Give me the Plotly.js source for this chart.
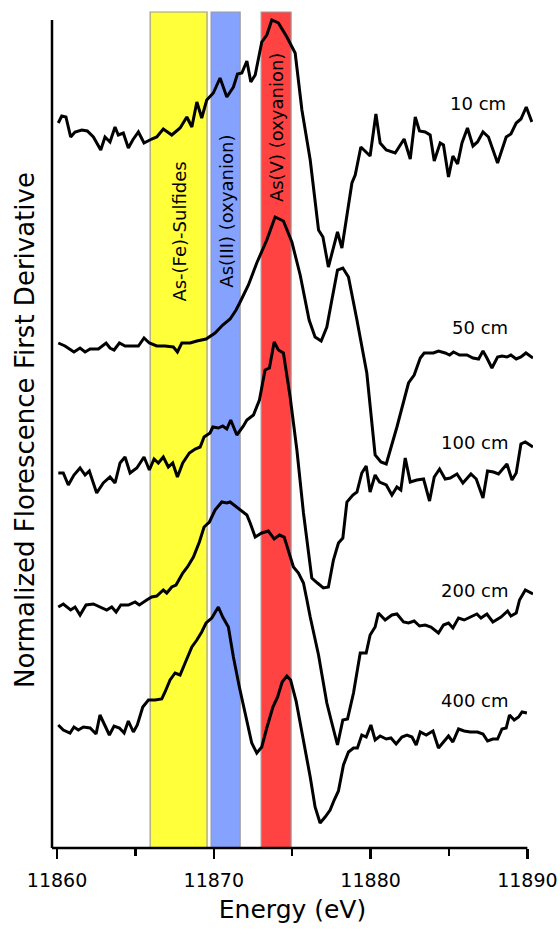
<!DOCTYPE html>
<html><head><meta charset="utf-8">
<script src="https://cdn.plot.ly/plotly-3.0.1.min.js"></script>
<style>html,body{margin:0;padding:0;background:#fff}#chart{width:560px;height:930px}</style>
</head><body><div id="chart"></div>
<script>
// ---- data (energies in eV, stacked first-derivative values, arbitrary units) ----
const e10 = [11860.08,11860.30,11860.57,11860.87,11861.15,11861.58,11861.93,11862.32,11862.79,11863.06,11863.38,11863.70,11863.91,11864.23,11864.55,11864.83,11865.19,11865.55,11866.04,11866.36,11866.78,11867.32,11867.85,11868.28,11868.60,11868.92,11869.23,11869.55,11869.97,11870.40,11870.83,11871.25,11871.51,11871.79,11872.11,11872.36,11872.64,11873.06,11873.38,11873.70,11874.12,11874.66,11875.19,11875.62,11876.15,11876.68,11876.96,11877.31,11877.89,11878.17,11878.81,11879.02,11879.38,11879.97,11880.34,11880.61,11881.00,11881.57,11882.14,11882.53,11882.85,11883.12,11883.48,11883.80,11884.06,11884.44,11884.65,11884.97,11885.25,11885.55,11885.83,11886.18,11886.53,11886.82,11887.17,11887.52,11888.10,11888.65,11888.95,11889.29,11889.59,11889.93,11890.29];
const v10 = [7.25,7.32,7.31,7.11,7.16,7.18,7.17,7.11,6.98,7.11,7.06,7.21,7.13,7.15,7.00,7.08,7.16,7.05,7.09,7.11,7.19,7.13,7.20,7.31,7.21,7.46,7.30,7.48,7.55,7.70,7.51,7.61,7.74,7.75,7.87,7.66,7.73,8.06,8.13,8.28,8.25,8.11,7.95,7.38,6.88,6.18,6.11,5.81,6.16,6.00,6.65,6.73,7.01,6.92,7.34,7.05,6.98,6.95,7.09,6.89,7.31,7.17,7.16,7.13,6.87,7.05,7.03,6.71,6.92,6.84,7.05,7.20,7.02,7.06,7.16,7.11,6.85,7.11,7.14,7.25,7.29,7.41,7.26];

const e50 = [11860.08,11860.51,11861.08,11861.47,11861.79,11862.11,11862.64,11863.13,11863.38,11863.64,11863.98,11864.34,11864.77,11865.19,11865.55,11865.89,11866.36,11866.89,11867.42,11867.68,11867.96,11868.49,11868.92,11869.51,11870.08,11870.57,11871.04,11871.42,11871.68,11872.21,11872.74,11873.38,11873.91,11874.44,11874.98,11875.51,11876.08,11876.46,11876.85,11877.21,11877.53,11877.89,11878.23,11878.59,11879.13,11879.76,11880.29,11880.66,11881.00,11881.68,11882.42,11882.78,11883.17,11883.42,11884.01,11884.33,11884.76,11885.04,11885.29,11885.67,11886.15,11886.53,11886.89,11887.17,11887.42,11887.74,11888.10,11888.38,11888.70,11888.95,11889.29,11889.59,11889.91,11890.36];
const v50 = [5.05,5.02,4.96,5.00,4.96,4.99,4.99,5.05,5.00,4.98,5.05,5.02,5.02,5.02,5.10,5.05,5.02,5.02,5.01,4.96,5.05,5.05,5.07,5.09,5.15,5.23,5.29,5.38,5.46,5.63,5.85,6.08,6.31,6.27,6.06,5.73,5.28,5.11,5.07,5.21,5.48,5.78,5.80,5.71,5.28,4.75,3.93,3.86,3.84,4.21,4.65,4.73,4.90,4.95,4.95,4.97,4.95,4.93,4.96,4.93,4.93,4.90,4.89,4.97,4.90,4.80,4.91,4.92,4.91,4.93,4.89,4.91,4.95,4.90];

const e100 = [11860.08,11860.40,11860.72,11861.08,11861.47,11861.79,11862.06,11862.53,11862.95,11863.38,11863.70,11864.02,11864.34,11864.66,11865.09,11865.55,11865.89,11866.19,11866.46,11866.78,11867.10,11867.38,11867.68,11868.02,11868.44,11868.81,11869.13,11869.38,11869.76,11869.94,11870.29,11870.57,11870.83,11871.08,11871.47,11871.89,11872.11,11872.53,11872.91,11873.27,11873.55,11873.85,11874.12,11874.44,11874.87,11875.30,11875.72,11876.25,11876.61,11876.99,11877.31,11877.63,11877.95,11878.23,11878.49,11878.87,11879.13,11879.44,11879.72,11879.97,11880.29,11880.57,11881.00,11881.36,11881.68,11881.93,11882.21,11882.53,11882.95,11883.38,11883.76,11884.06,11884.40,11884.76,11885.08,11885.51,11885.89,11886.40,11886.74,11887.17,11887.46,11887.84,11888.16,11888.70,11889.02,11889.29,11889.59,11889.87,11890.36];
const v100 = [3.75,3.75,3.63,3.73,3.80,3.73,3.77,3.55,3.65,3.71,3.65,3.85,3.91,3.75,3.80,3.91,3.78,3.89,3.85,3.91,3.81,3.85,3.71,3.85,3.95,3.99,4.01,4.11,4.15,4.21,4.20,4.22,4.19,4.28,4.13,4.22,4.28,4.33,4.48,4.78,4.80,5.06,4.98,4.95,4.51,3.98,3.35,2.70,2.65,2.60,2.61,2.88,3.05,3.10,3.46,3.53,3.56,3.75,3.82,3.56,3.73,3.66,3.63,3.53,3.61,3.58,3.90,3.66,3.68,3.69,3.47,3.71,3.79,3.69,3.70,3.74,3.65,3.74,3.69,3.50,3.77,3.76,3.74,3.84,3.68,3.75,4.04,4.06,4.01];

const e200 = [11860.08,11860.40,11860.87,11861.15,11861.47,11861.85,11862.32,11862.74,11863.17,11863.49,11863.77,11864.07,11864.55,11864.98,11865.25,11865.72,11866.04,11866.36,11866.78,11867.00,11867.32,11867.59,11868.02,11868.32,11868.70,11869.08,11869.38,11869.72,11870.08,11870.51,11870.83,11871.04,11871.47,11872.11,11872.32,11872.64,11873.06,11873.48,11873.85,11874.19,11874.49,11874.76,11875.08,11875.40,11875.72,11875.94,11876.15,11876.68,11877.21,11877.53,11877.89,11878.23,11878.53,11878.91,11879.34,11879.72,11879.97,11880.29,11880.50,11880.93,11881.36,11881.68,11882.10,11882.42,11882.78,11883.12,11883.48,11883.85,11884.33,11884.65,11884.97,11885.25,11885.61,11885.97,11886.36,11886.78,11887.04,11887.42,11887.80,11888.32,11888.74,11888.95,11889.29,11889.50,11889.87,11890.36];
const v200 = [2.41,2.44,2.38,2.41,2.33,2.43,2.44,2.41,2.38,2.41,2.36,2.43,2.43,2.46,2.43,2.48,2.51,2.52,2.58,2.55,2.61,2.63,2.75,2.81,2.91,3.06,3.21,3.26,3.38,3.46,3.45,3.46,3.41,3.33,3.25,3.11,3.15,3.17,3.09,3.13,3.11,2.98,2.81,2.75,2.65,2.48,2.31,1.93,1.45,1.25,1.03,1.28,1.29,1.55,1.95,1.95,2.13,2.21,2.35,2.28,2.33,2.34,2.26,2.25,2.27,2.22,2.23,2.21,2.15,2.23,2.25,2.20,2.30,2.28,2.31,2.34,2.30,2.34,2.26,2.31,2.37,2.32,2.35,2.48,2.58,2.54];

const e400 = [11860.08,11860.40,11860.83,11861.08,11861.36,11861.68,11862.11,11862.49,11862.74,11863.06,11863.34,11863.64,11863.98,11864.28,11864.55,11864.87,11865.12,11865.47,11865.83,11866.25,11866.68,11866.89,11867.21,11867.53,11867.85,11868.17,11868.60,11868.92,11869.23,11869.51,11869.87,11870.29,11870.57,11870.93,11871.25,11871.63,11872.00,11872.42,11872.74,11873.06,11873.38,11873.77,11874.07,11874.36,11874.66,11874.90,11875.25,11875.72,11876.15,11876.46,11876.78,11877.10,11877.42,11877.68,11877.95,11878.27,11878.59,11878.91,11879.16,11879.44,11879.72,11880.02,11880.29,11880.61,11881.00,11881.30,11881.63,11882.00,11882.32,11882.64,11882.91,11883.17,11883.55,11883.98,11884.33,11884.65,11884.97,11885.25,11885.61,11885.97,11886.36,11886.82,11887.17,11887.46,11887.80,11888.10,11888.38,11888.65,11888.86,11889.16,11889.44,11889.66,11889.97];
const v400 = [1.23,1.18,1.15,1.21,1.18,1.21,1.20,1.14,1.33,1.22,1.13,1.22,1.20,1.15,1.27,1.16,1.23,1.41,1.48,1.48,1.49,1.56,1.68,1.75,1.73,1.85,2.01,2.08,2.16,2.25,2.30,2.41,2.31,2.21,1.91,1.61,1.36,1.05,0.95,1.01,1.20,1.41,1.51,1.66,1.72,1.68,1.47,1.08,0.71,0.41,0.25,0.31,0.38,0.48,0.57,0.83,0.96,1.00,1.00,1.13,1.11,1.23,1.08,1.12,1.09,1.10,1.04,1.11,1.13,1.11,1.03,1.16,1.13,1.17,1.00,1.06,1.12,1.06,1.19,1.17,1.16,1.16,1.14,1.07,1.09,1.09,1.19,1.20,1.33,1.28,1.31,1.36,1.35];

const seriesNames = ["10 cm","50 cm","100 cm","200 cm","400 cm"];
const labelEnergy = [11886.87,11887.0,11886.67,11886.67,11886.67];
const labelValue  = [7.45,5.21,4.06,2.58,1.48];

const bandNames  = ["As-(Fe)-Sulfides","As(III) (oxyanion)","As(V) (oxyanion)"];
const bandStart  = [11865.94,11869.83,11873.02];
const bandEnd    = [11869.57,11871.68,11874.93];
const bandLabelY = [6.16,6.37,7.20];
const bandColors = ["#FFFF3A","#86A2FF","#FF4343"];

const xTickVals = [11860,11870,11880,11890];
const xMinorVals = [11865,11875,11885];

// ---- build ----
const energies = [e10,e50,e100,e200,e400];
const values = [v10,v50,v100,v200,v400];
const traces = energies.map((e,i)=>({
  type:'scatter', mode:'lines', x:e, y:values[i], name:seriesNames[i],
  line:{color:'#000', width:3}, showlegend:false, hoverinfo:'skip'
}));

const FONT = "DejaVu Sans, Verdana, sans-serif";
const shapes = bandStart.map((s,i)=>({
  type:'rect', xref:'x', yref:'paper', x0:s, x1:bandEnd[i], y0:0, y1:1,
  fillcolor:bandColors[i], line:{color:'#999', width:1.2}, layer:'below'
}));
// axis lines
shapes.push({type:'line', xref:'paper', yref:'paper', x0:0, x1:0, y0:0, y1:0.9904, line:{color:'#000', width:2.5}});
shapes.push({type:'line', xref:'paper', yref:'paper', x0:0, x1:0.9883, y0:0, y1:0, line:{color:'#000', width:2.5}});

const annotations = bandNames.map((t,i)=>({
  x:(bandStart[i]+bandEnd[i])/2, y:bandLabelY[i], xref:'x', yref:'y', text:t,
  textangle:-90, showarrow:false, font:{family:FONT, size:18, color:'#000'}
})).concat(seriesNames.map((t,i)=>({
  x:labelEnergy[i], y:labelValue[i], xref:'x', yref:'y', text:t, showarrow:false,
  font:{family:FONT, size:18, color:'#000'}
})));

const layout = {
  width:560, height:930,
  margin:{l:52, r:27, t:12, b:82},
  paper_bgcolor:'#fff', plot_bgcolor:'#fff',
  font:{family:FONT, color:'#000'},
  xaxis:{
    range:[11859.68,11890.36], tickvals:xTickVals, ticktext:xTickVals.map(String),
    ticks:'outside', ticklen:10, tickwidth:2.5, tickcolor:'#000', ticklabelstandoff:5,
    minor:{tickvals:xMinorVals, ticks:'outside', ticklen:7, tickwidth:2.5, tickcolor:'#000'},
    showgrid:false, zeroline:false, showline:false,
    tickfont:{family:FONT, size:19, color:'#000'},
    title:{text:'Energy (eV)', font:{family:FONT, size:25, color:'#000'}, standoff:10},
    automargin:false
  },
  yaxis:{
    range:[0,8.36], showticklabels:false, ticks:'', showgrid:false, zeroline:false, showline:false,
    title:{text:'Normalized Florescence First Derivative', font:{family:FONT, size:26, color:'#000'}, standoff:8},
    automargin:false
  },
  shapes:shapes, annotations:annotations, showlegend:false
};
Plotly.newPlot('chart', traces, layout, {staticPlot:true, displayModeBar:false});
</script></body></html>
